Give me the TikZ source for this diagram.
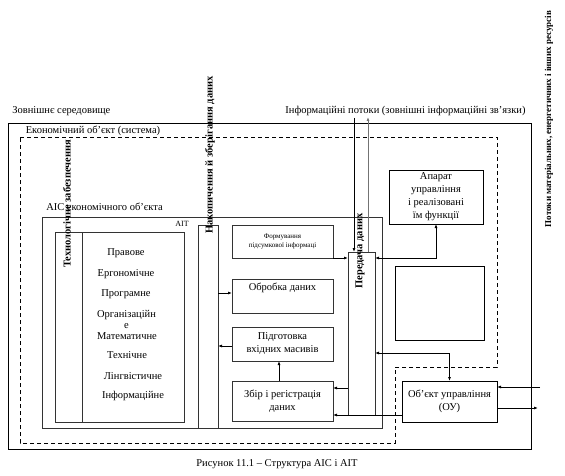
\documentclass[tikz,border=0pt]{standalone}
\usepackage{fontspec}
\setmainfont{Liberation Serif}
\usetikzlibrary{arrows.meta}

\begin{document}
\begin{tikzpicture}[x=1pt,y=-1pt,line width=0.8pt,
        box/.style={draw=black!80, inner sep=0pt, outer sep=0pt, align=center, font=\fontsize{10.5}{13}\selectfont},
        vtext/.style={rotate=90, font=\bfseries\fontsize{10.5}{12}\selectfont},
        txt/.style={inner sep=0pt, font=\fontsize{10.5}{12}\selectfont},
        arr/.style={-{Latex[length=4pt,width=3pt]}},
        darr/.style={{Latex[length=4pt,width=3pt]}-{Latex[length=4pt,width=3pt]}}]

        \useasboundingbox (0,0) rectangle (565,476);

        % environment and economic object
        \draw (8,123) rectangle (531,449);
        \draw[dash pattern=on 4pt off 3pt] (20,137) -- (497,137) -- (497,367) -- (395,367)
            -- (395,443) -- (20,443) -- cycle;

        \node[txt, anchor=west] (env) at (12,111) {Зовнішнє середовище};
        \node[txt] (infoflow) at (405.5,111) {Інформаційні потоки (зовнішні інформаційні зв'язки)};
        \node[txt] (ecobj) at (93,131) {Економічний об'єкт (система)};
        \node[vtext, font=\bfseries\fontsize{9}{10}\selectfont] (res) at (549,119)
            {Потоки матеріальних, енергетичних і інших ресурсів};

        % AIC
        \node[box, minimum width=340pt, minimum height=211pt] (aic) at (212,322.5) {};
        \node[txt] (aiclabel) at (104.5,207) {АІС економічного об'єкта};
        \node[txt, font=\fontsize{8}{9}\selectfont] (ait) at (182,224) {АІТ};

        \node[box, minimum width=27pt, minimum height=190pt] (tech) at (68.5,327) {};
        \node[box, minimum width=102pt, minimum height=190pt] (kinds) at (133,327) {};
        \node[vtext] (techlabel) at (67,204) {Технологічне забезпечення};

        \node[txt] (k1) at (126,253) {Правове};
        \node[txt] (k2) at (126,274) {Ергономічне};
        \node[txt] (k3) at (126,294) {Програмне};
        \node[txt] (k4) at (126.5,315) {Організаційн};
        \node[txt] (k4e) at (126.5,326) {е};
        \node[txt] (k5) at (127,336) {Математичне};
        \node[txt] (k6) at (127,355) {Технічне};
        \node[txt] (k7) at (133,376) {Лінгвістичне};
        \node[txt] (k8) at (133,396) {Інформаційне};

        \node[box, minimum width=20pt, minimum height=203pt] (nak) at (208,326.5) {};
        \node[vtext] (naklabel) at (210,155) {Накопичення й зберігання даних};

        \node[box, minimum width=101pt, minimum height=33pt, font=\fontsize{7}{9}\selectfont] (form) at (282.5,241.5)
            {Формування\\підсумкової інформаці};
        \node[box, minimum width=101pt, minimum height=34pt,
            label={[txt, anchor=north, yshift=-4pt]north:Обробка даних}] (obr) at (282.5,296) {};
        \node[box, minimum width=101pt, minimum height=34pt] (pid) at (282.5,344) {Підготовка\\вхідних масивів};
        \node[box, minimum width=101pt, minimum height=40pt] (zbir) at (282.5,401) {Збір і регістрація\\даних};

        \node[box, minimum width=27pt, minimum height=163pt] (pered) at (361.5,333.5) {};
        \node[vtext] (peredlabel) at (360,251) {Передача даних};

        % management
        \node[box, draw=black, minimum width=94pt, minimum height=54pt] (apar) at (436,197)
            {Апарат\\управління\\і реалізовані\\їм функції};
        \node[box, draw=black, minimum width=89pt, minimum height=74pt] (empty) at (439.5,303) {};
        \node[box, draw=black, minimum width=95pt, minimum height=41pt] (ou) at (449.5,401.5)
            {Об'єкт управління\\(ОУ)};

        \coordinate (infoin) at (354,118);
        \coordinate (infoout) at (368,117);
        \coordinate (resin) at (540,387);
        \coordinate (resout) at (538,408);

        % connectors
        \draw[arr] (infoin) -- (infoin |- pered.north);
        \draw[arr, draw=black!55] (infoout |- pered.north) -- (infoout);
        \draw[arr] (form.south east) -- (form.south east -| pered.west);
        \draw[darr] (apar.south) |- (pered.east |- form.south);
        \draw[arr] (nak.east |- 0,293) -- (obr.west |- 0,293);
        \draw[arr] (pid.west |- 0,346) -- (nak.east |- 0,346);
        \draw[arr] (zbir.north -| 279,0) -- (pid.south -| 279,0);
        \draw[arr] (pered.west |- 0,388) -- (zbir.east |- 0,388);
        \draw[arr] (ou.west |- 0,415) -- (zbir.east |- 0,415);
        \draw[darr] (pered.east |- 0,353) -| (ou.north);
        \draw[arr] (resin) -- (ou.east |- resin);
        \draw[arr] (ou.east |- resout) -- (resout);

        \node[txt] (caption) at (277,464) {Рисунок 11.1 – Структура АІС і АІТ};

\end{tikzpicture}
\end{document}
